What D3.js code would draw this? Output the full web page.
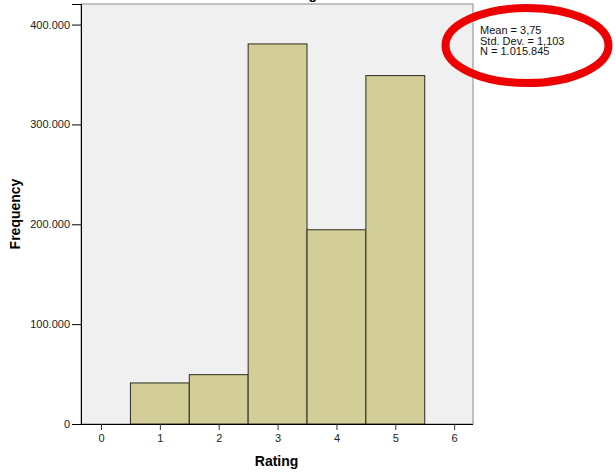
<!DOCTYPE html>
<html>
<head>
<meta charset="utf-8">
<script src="https://cdn.jsdelivr.net/npm/d3@7"></script>
<style>
  body { margin: 0; background: #fff; }
  text { font-family: Arial, "Liberation Sans", sans-serif; }
</style>
</head>
<body>
<svg></svg>
<script>
const size = { w: 616, h: 472 };
const margin = { t: 4, r: 143, b: 48, l: 81 };

// histogram bins (rating value and count)
const ratings = [1, 2, 3, 4, 5];
const counts = [41100, 49400, 380600, 194500, 348900];
const xTicks = [0, 1, 2, 3, 4, 5, 6];
const yTicks = [0, 100000, 200000, 300000, 400000];
const statLines = ["Mean = 3,75", "Std. Dev. = 1,103", "N = 1.015.845"];

const svg = d3.select("svg").attr("width", size.w).attr("height", size.h);
const innerW = size.w - margin.l - margin.r;
const innerH = size.h - margin.t - margin.b;

const x = d3.scaleLinear().domain([-0.34, 6.32]).range([margin.l, margin.l + innerW]);
const y = d3.scaleLinear().domain([0, 420600]).range([margin.t + innerH, margin.t]);

// plot background
svg.append("rect")
  .attr("x", margin.l).attr("y", margin.t)
  .attr("width", innerW).attr("height", innerH)
  .attr("fill", "#f0f0f0")
  .attr("stroke", "#8a8a8a");

// title, mostly cut off at the top
svg.append("text")
  .attr("x", 308).attr("y", -1.5)
  .attr("text-anchor", "middle")
  .attr("font-size", 14).attr("font-weight", "bold")
  .text("Histogram");

// bars
svg.append("g").selectAll("rect")
  .data(ratings)
  .join("rect")
  .attr("x", (d) => x(d - 0.5))
  .attr("width", (d) => x(d + 0.5) - x(d - 0.5))
  .attr("y", (d, i) => y(counts[i]))
  .attr("height", (d, i) => y(0) - y(counts[i]))
  .attr("fill", "#d3ce97")
  .attr("stroke", "#2b2b1e")
  .attr("stroke-width", 1);

// y axis
const fmt = (v) => v === 0 ? "0" : d3.format(",")(v).replace(/,/g, ".");
const yAxis = svg.append("g")
  .attr("transform", `translate(${margin.l},0)`)
  .call(d3.axisLeft(y).tickValues(yTicks).tickFormat(fmt).tickSize(9).tickPadding(2));
yAxis.select(".domain").attr("stroke", "#000");
yAxis.selectAll("text").attr("font-size", 11).attr("fill", "#222")
  .attr("font-family", "Arial, 'Liberation Sans', sans-serif");

// x axis
const xAxis = svg.append("g")
  .attr("transform", `translate(0,${margin.t + innerH})`)
  .call(d3.axisBottom(x).tickValues(xTicks).tickFormat(d3.format("d")).tickSize(6).tickPadding(4));
xAxis.select(".domain").attr("stroke", "#000").attr("d", `M${margin.l},0.5H${margin.l + innerW}`);
xAxis.selectAll("line").attr("stroke", "#333");
xAxis.selectAll("text").attr("font-size", 11).attr("fill", "#222")
  .attr("font-family", "Arial, 'Liberation Sans', sans-serif");

// axis titles
svg.append("text")
  .attr("x", x(3) - 1).attr("y", 466)
  .attr("text-anchor", "middle")
  .attr("font-size", 14).attr("font-weight", "bold")
  .text("Rating");

svg.append("text")
  .attr("transform", `translate(20,${margin.t + innerH / 2}) rotate(-90)`)
  .attr("text-anchor", "middle")
  .attr("font-size", 14).attr("font-weight", "bold")
  .text("Frequency");

// stats box
svg.append("g").selectAll("text")
  .data(statLines)
  .join("text")
  .attr("x", 480)
  .attr("y", (d, i) => 34 + i * 10.7)
  .attr("font-size", 11)
  .attr("fill", "#111")
  .text((d) => d);

// red circle drawn around the stats
svg.append("ellipse")
  .attr("cx", 527).attr("cy", 45.5)
  .attr("rx", 81.5).attr("ry", 37.5)
  .attr("fill", "none")
  .attr("stroke", "#ee0000")
  .attr("stroke-width", 8);
</script>
</body>
</html>
